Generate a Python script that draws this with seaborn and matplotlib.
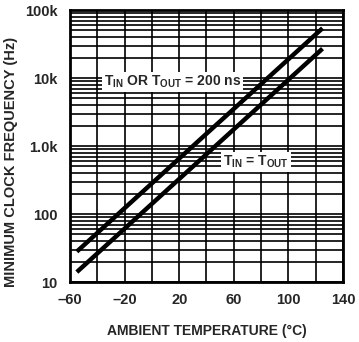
import matplotlib
matplotlib.use("Agg")
import matplotlib.pyplot as plt
import seaborn as sns
import pandas as pd
from matplotlib.ticker import LogLocator, FixedLocator

# datos
temps = [-55, 125]
freq_200ns = [28, 54000]
freq_equal = [14, 27000]
xticks = [-60, -20, 20, 60, 100, 140]
yticks = [10, 100, 1000, 10000, 100000]
ytick_labels = ["10", "100", "1.0k", "10k", "100k"]

df = pd.DataFrame({
    "temp": temps + temps,
    "freq": freq_200ns + freq_equal,
    "curve": ["200ns"] * 2 + ["equal"] * 2,
})

sns.set_style("white")
fam = ["Liberation Sans", "DejaVu Sans"]
plt.rcParams["font.family"] = fam
plt.rcParams["font.weight"] = "bold"
plt.rcParams["mathtext.fontset"] = "custom"
plt.rcParams["mathtext.rm"] = "Liberation Sans:bold"
plt.rcParams["mathtext.default"] = "rm"

fig = plt.figure(figsize=(3.59, 3.42), dpi=100)
ax = fig.add_axes([70 / 359, 1 - 282 / 342, 273 / 359, 272 / 342])

sns.lineplot(data=df, x="temp", y="freq", units="curve", estimator=None,
             color="black", lw=3.2, ax=ax, solid_capstyle="butt")

ax.set_yscale("log")
ax.set_xlim(-60, 140)
ax.set_ylim(10, 100000)
ax.xaxis.set_major_locator(FixedLocator(xticks))
ax.xaxis.set_minor_locator(FixedLocator(list(range(-60, 141, 20))))
ax.yaxis.set_major_locator(FixedLocator(yticks))
ax.set_yticklabels(ytick_labels)
ax.yaxis.set_minor_locator(LogLocator(base=10, subs=range(2, 10)))
ax.grid(which="both", color="black", lw=1.2)
ax.tick_params(which="both", length=0, labelsize=10.5)
ax.tick_params(axis="y", pad=9)
ax.tick_params(axis="x", pad=8)
for s in ax.spines.values():
    s.set_linewidth(2)
    s.set_color("black")
ax.set_xticklabels([str(t).replace("-", "\u2013") for t in xticks])
for lab in ax.get_xticklabels() + ax.get_yticklabels():
    lab.set_fontweight("bold")

ax.set_xlabel("AMBIENT TEMPERATURE (°C)", fontsize=10, fontweight="bold", labelpad=12)
ax.set_ylabel("MINIMUM CLOCK FREQUENCY (Hz)", fontsize=10.5, fontweight="bold")
ax.yaxis.set_label_coords(-0.19, 0.44)

box = dict(facecolor="white", edgecolor="none", pad=1.5)
ax.text(15, 8700, r"$T_{IN}$ OR $T_{OUT}$ = 200 ns", fontsize=10, fontweight="bold",
        ha="center", va="center", bbox=box)
ax.text(76, 580, r"$T_{IN}$ = $T_{OUT}$", fontsize=10, fontweight="bold",
        ha="center", va="center", bbox=box)

fig.savefig("out.png", dpi=100)
